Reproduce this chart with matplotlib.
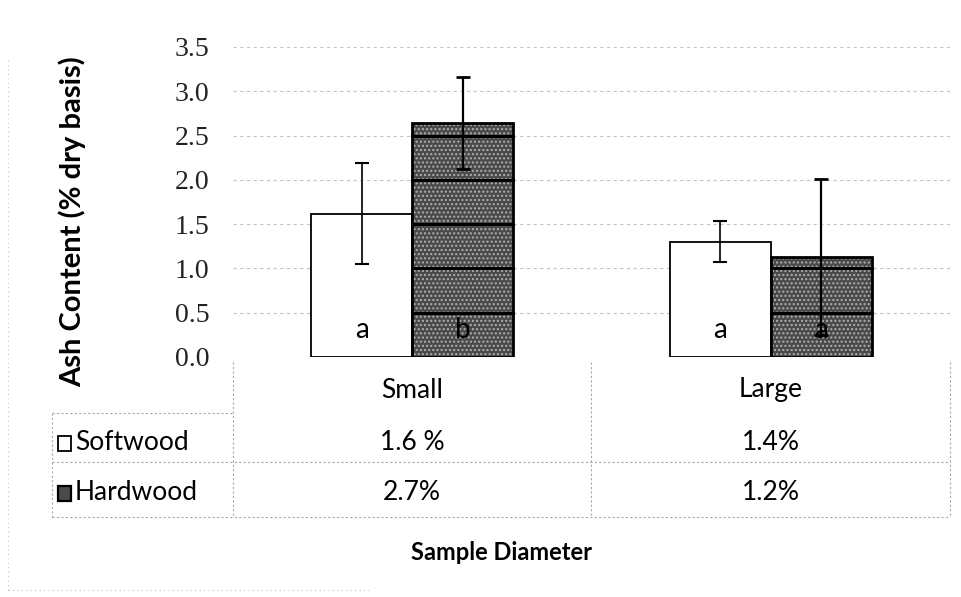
import numpy as np
import matplotlib.pyplot as plt
from matplotlib import transforms

# chart data
categories = ["Small", "Large"]
softwood = [1.62, 1.30]
hardwood = [2.64, 1.13]
softwood_err = [0.57, 0.23]
hardwood_err = [0.52, 0.88]
softwood_letters = ["a", "a"]
hardwood_letters = ["b", "a"]
softwood_table = ["1.6 %", "1.4%"]
hardwood_table = ["2.7%", "1.2%"]
yticks = [0.0, 0.5, 1.0, 1.5, 2.0, 2.5, 3.0, 3.5]

W, H = 962, 597
fig = plt.figure(figsize=(W / 100, H / 100), dpi=100)
ax = fig.add_axes([233 / W, 1 - 357 / H, 717 / W, 310 / H])

label_font = "Lato"
hard_face = "#4a4a4a"
hatch_col = "#b0b0b0"

x = np.arange(len(categories))
w = 0.282

# gridlines
for t in yticks:
    ax.axhline(t, color="#c4c4c4", lw=0.8, ls=(0, (3, 3)), zorder=0)

# softwood bars (white)
ax.bar(x - w / 2, softwood, w, color="white", edgecolor="black", lw=1.3, zorder=2)

# hardwood bars: grey speckle-ish fill, then black outline
ax.bar(x + w / 2, hardwood, w, color=hard_face, edgecolor=hatch_col, hatch="....",
       lw=0, zorder=2)
ax.bar(x + w / 2, hardwood, w, fill=False, edgecolor="black", lw=2.0, zorder=3)

# black lines across the hardwood bars at the gridline levels
for xi, h in zip(x, hardwood):
    for t in yticks[1:]:
        if t < h:
            ax.plot([xi, xi + w], [t, t], color="black", lw=2.2, zorder=3)

# error bars
ax.errorbar(x - w / 2, softwood, yerr=softwood_err, fmt="none", ecolor="black",
            elinewidth=1.2, capsize=5, capthick=1.5, zorder=4)
ax.errorbar(x + w / 2, hardwood, yerr=hardwood_err, fmt="none", ecolor="black",
            elinewidth=1.6, capsize=5, capthick=2.0, zorder=4)

# significance letters
for xi, s in zip(x, softwood_letters):
    ax.text(xi - w / 2, 0.3, s, ha="center", va="center", fontsize=20,
            family=label_font, zorder=5)
for xi, s in zip(x, hardwood_letters):
    ax.text(xi + w / 2, 0.3, s, ha="center", va="center", fontsize=20,
            family=label_font, zorder=5)

ax.set_xlim(-0.5, 1.5)
ax.set_ylim(0, 3.5)
ax.set_yticks(yticks)
ax.set_yticklabels([f"{t:.1f}" for t in yticks], family="Liberation Serif",
                   fontsize=20, color="#222222")
ax.tick_params(axis="y", length=0, pad=17)
ax.set_xticks([])
for s in ax.spines.values():
    s.set_visible(False)

fig.text(72 / W, 1 - 222 / H, "Ash Content (% dry basis)", rotation=90,
         ha="center", va="center", fontsize=21, fontweight="bold", family=label_font)

# data table under the plot: x in data coords, y in figure coords
tr = transforms.blended_transform_factory(ax.transData, fig.transFigure)
fy = lambda py: 1 - py / H
x_left = ax.transData.inverted().transform(fig.transFigure.transform((52 / W, 0)))[0]
x_right = 1.5

border = dict(color="#a8a8a8", lw=0.8, ls=(0, (2, 2)), transform=tr, clip_on=False)
for py in [462, 517]:
    ax.plot([x_left, x_right], [fy(py), fy(py)], **border)
ax.plot([x_left, -0.5], [fy(413), fy(413)], **border)
ax.plot([x_left, x_left], [fy(413), fy(517)], **border)
for xb in [-0.5, 0.5, 1.5]:
    ax.plot([xb, xb], [fy(362), fy(517)], **border)

for xi, c in zip(x, categories):
    ax.text(xi, fy(390), c, ha="center", va="center", fontsize=19,
            family=label_font, transform=tr)
for xi, v in zip(x, softwood_table):
    ax.text(xi, fy(443), v, ha="center", va="center", fontsize=19,
            family=label_font, transform=tr)
for xi, v in zip(x, hardwood_table):
    ax.text(xi, fy(493), v, ha="center", va="center", fontsize=19,
            family=label_font, transform=tr)

# row headers with legend keys
fig.text(75 / W, fy(443), "Softwood", ha="left", va="center", fontsize=19,
         family=label_font)
fig.text(75 / W, fy(493), "Hardwood", ha="left", va="center", fontsize=19,
         family=label_font)
fig.patches.append(plt.Rectangle((58 / W, fy(451)), 13 / W, 15 / H, facecolor="white",
                                 edgecolor="black", lw=1.3, transform=fig.transFigure))
fig.patches.append(plt.Rectangle((58 / W, fy(501)), 13 / W, 15 / H, facecolor=hard_face,
                                 edgecolor="black", lw=1.6, transform=fig.transFigure))

fig.text(502 / W, fy(553), "Sample Diameter", ha="center", va="center", fontsize=17,
         fontweight="bold", family=label_font)

# faint chart-area border on the left and bottom
fig.add_artist(plt.Line2D([8 / W, 8 / W], [fy(590), fy(60)], color="#c4c4c4", lw=0.8,
                          ls=(0, (1, 3)), transform=fig.transFigure))
fig.add_artist(plt.Line2D([8 / W, 370 / W], [fy(590), fy(590)], color="#c4c4c4", lw=0.8,
                          ls=(0, (1, 3)), transform=fig.transFigure))

fig.savefig("out.png", dpi=100, facecolor="white")
